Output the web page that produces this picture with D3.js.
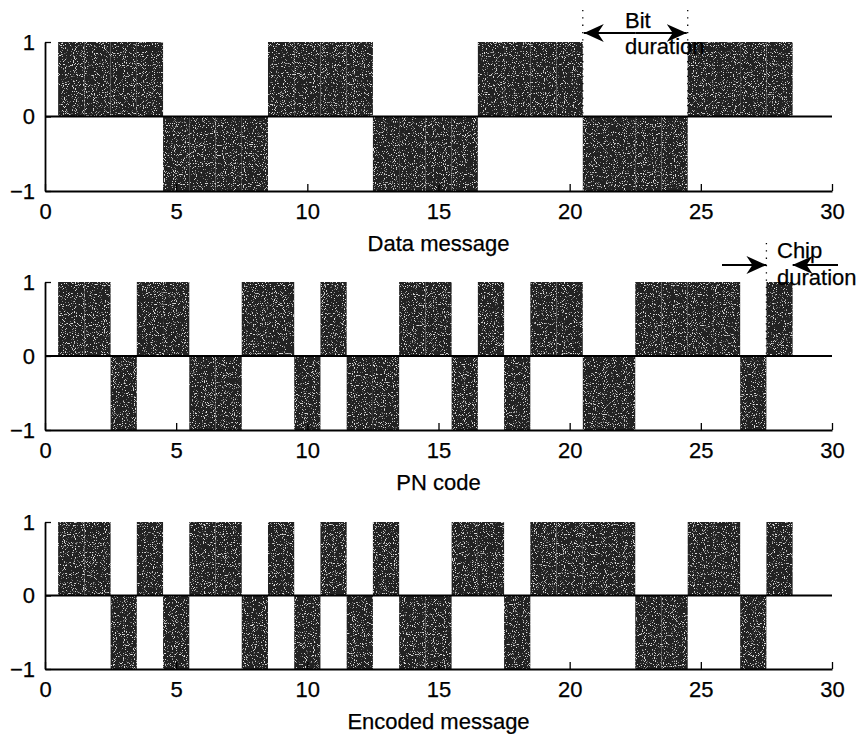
<!DOCTYPE html>
<html><head><meta charset="utf-8">
<script src="https://cdn.jsdelivr.net/npm/d3@7"></script>
<style>body{margin:0;background:#fff}svg{display:block}text{font-family:"Liberation Sans",Arial,sans-serif;fill:#000;stroke:#000;stroke-width:0.25px}</style>
</head><body>
<script>
const chips = [1,2,3,4,5,6,7,8,9,10,11,12,13,14,15,16,17,18,19,20,21,22,23,24,25,26,27,28];
const dataMessage = [1,1,1,1,-1,-1,-1,-1,1,1,1,1,-1,-1,-1,-1,1,1,1,1,-1,-1,-1,-1,1,1,1,1];
const pnCode      = [1,1,-1,1,1,-1,-1,1,1,-1,1,-1,-1,1,1,-1,1,-1,1,1,-1,-1,1,1,1,1,-1,1];
const encoded     = [1,1,-1,1,-1,1,1,-1,1,-1,1,-1,1,-1,-1,1,1,-1,1,1,1,1,-1,-1,1,1,-1,1];
const xTicks = [0,5,10,15,20,25,30];
const yTicks = [-1,0,1];
const titles = ["Data message","PN code","Encoded message"];

const W=865,H=734;
const svg=d3.select("body").append("svg").attr("width",W).attr("height",H);
const defs=svg.append("defs");
const f=defs.append("filter").attr("id","grain").attr("x",0).attr("y",0).attr("width",1).attr("height",1);
f.append("feTurbulence").attr("type","fractalNoise").attr("baseFrequency",0.9).attr("numOctaves",1).attr("seed",3).attr("result","n");
f.append("feColorMatrix").attr("in","n").attr("type","matrix")
 .attr("values","0 0 0 0 0.72  0 0 0 0 0.72  0 0 0 0 0.72  0 0 0 10 -6.0").attr("result","dots");
f.append("feComposite").attr("in","dots").attr("in2","SourceGraphic").attr("operator","in").attr("result","d2");
f.append("feMerge").call(m=>{m.append("feMergeNode").attr("in","SourceGraphic");m.append("feMergeNode").attr("in","d2");});

const x=d3.scaleLinear().domain([0,30]).range([45,832]);
const panels=[{vals:dataMessage,y0:42,y1:191},{vals:pnCode,y0:282,y1:430},{vals:encoded,y0:522,y1:669}];
const FS=22;

panels.forEach((p,k)=>{
  const y=d3.scaleLinear().domain([-1,1]).range([p.y1,p.y0]);
  const g=svg.append("g");
  g.append("g").attr("filter","url(#grain)").selectAll("rect").data(chips).join("rect")
   .attr("x",(c)=>x(c-0.5)).attr("width",x(1)-x(0))
   .attr("y",(c,i)=>y(Math.max(0,p.vals[i]))).attr("height",(c,i)=>Math.abs(y(p.vals[i])-y(0)))
   .attr("fill","#232323");
  g.append("line").attr("x1",x(0)).attr("x2",x(30)).attr("y1",y(0)).attr("y2",y(0)).attr("stroke","#000").attr("stroke-width",1.8);
  const xa=d3.axisBottom(x).tickValues(xTicks).tickSize(-7).tickSizeOuter(0).tickPadding(11).tickFormat(d3.format("d"));
  const gx=g.append("g").attr("transform",`translate(0,${y(-1)})`).call(xa);
  gx.select(".domain").attr("stroke-width",1.8);
  gx.selectAll(".tick line").attr("stroke-width",1.3);
  gx.selectAll("text").style("font-size",FS+"px").attr("dy","0.72em").attr("y",12);
  const ya=d3.axisLeft(y).tickValues(yTicks).tickSize(-6).tickSizeOuter(0).tickPadding(10).tickFormat(d=>d<0?"\u2212"+Math.abs(d):d);
  const gy=g.append("g").attr("transform",`translate(${x(0)},0)`).call(ya);
  gy.select(".domain").attr("stroke-width",1.8);
  gy.selectAll(".tick line").attr("stroke-width",1.3);
  gy.selectAll("text").style("font-size",FS+"px");
  g.append("text").attr("x",(x(0)+x(30))/2).attr("y",y(-1)+60).attr("text-anchor","middle").style("font-size",FS+"px").text(titles[k]);
});

const m=defs.append("marker").attr("id","ah").attr("viewBox","0 0 20 20").attr("refX",20).attr("refY",10)
 .attr("markerWidth",20).attr("markerHeight",20).attr("markerUnits","userSpaceOnUse").attr("orient","auto");
m.append("path").attr("d","M0,1 L20,10 L0,19 L6,10 Z").attr("fill","#000");

const yB=33;
[20.5,24.5].forEach(v=>svg.append("line").attr("x1",x(v)).attr("x2",x(v)).attr("y1",10).attr("y2",116)
  .attr("stroke","#000").attr("stroke-width",1.3).attr("stroke-dasharray","1.3,6"));
svg.append("line").attr("x1",x(22.5)).attr("x2",x(20.5)+1).attr("y1",yB).attr("y2",yB).attr("stroke","#000").attr("stroke-width",1.8).attr("marker-end","url(#ah)");
svg.append("line").attr("x1",x(22.5)).attr("x2",x(24.5)-1).attr("y1",yB).attr("y2",yB).attr("stroke","#000").attr("stroke-width",1.8).attr("marker-end","url(#ah)");
svg.append("text").attr("x",625).attr("y",28).style("font-size",FS+"px").text("Bit");
svg.append("text").attr("x",625).attr("y",54).style("font-size",FS+"px").text("duration");

const yC=265;
svg.append("line").attr("x1",x(27.5)).attr("x2",x(27.5)).attr("y1",243).attr("y2",356)
  .attr("stroke","#000").attr("stroke-width",1.3).attr("stroke-dasharray","1.3,6");
svg.append("line").attr("x1",722).attr("x2",x(27.5)).attr("y1",yC).attr("y2",yC).attr("stroke","#000").attr("stroke-width",1.8).attr("marker-end","url(#ah)");
svg.append("line").attr("x1",838).attr("x2",x(28.5)).attr("y1",yC).attr("y2",yC).attr("stroke","#000").attr("stroke-width",1.8).attr("marker-end","url(#ah)");
svg.append("text").attr("x",777).attr("y",258).style("font-size",FS+"px").text("Chip");
svg.append("text").attr("x",777).attr("y",285).style("font-size",FS+"px").text("duration");
</script>
</body></html>
